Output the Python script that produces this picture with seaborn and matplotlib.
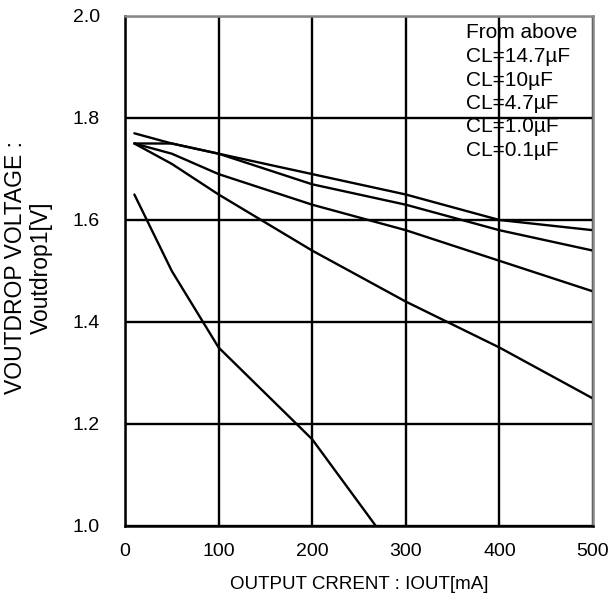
import pandas as pd
import matplotlib
matplotlib.use("Agg")
import matplotlib.pyplot as plt
import seaborn as sns

# load current (mA) and dropout voltage (V) for each output capacitor
current = [10, 50, 100, 200, 300, 400, 500]
cl_14_7 = [1.77, 1.75, 1.73, 1.69, 1.65, 1.60, 1.58]
cl_10 = [1.75, 1.75, 1.73, 1.67, 1.63, 1.58, 1.54]
cl_4_7 = [1.75, 1.73, 1.69, 1.63, 1.58, 1.52, 1.46]
cl_1_0 = [1.75, 1.71, 1.65, 1.54, 1.44, 1.35, 1.25]
cl_0_1 = [1.65, 1.50, 1.35, 1.17, 0.92, None, None]
series_names = ["CL=14.7µF", "CL=10µF", "CL=4.7µF", "CL=1.0µF", "CL=0.1µF"]

rows = []
for name, vals in zip(series_names, [cl_14_7, cl_10, cl_4_7, cl_1_0, cl_0_1]):
    for x, v in zip(current, vals):
        if v is not None:
            rows.append({"iout": x, "vdrop": v, "cl": name})
df = pd.DataFrame(rows)

sns.set_style("white")
plt.rcParams["font.family"] = ["Liberation Sans", "DejaVu Sans"]
plt.rcParams["text.color"] = "black"
plt.rcParams["xtick.color"] = "black"
plt.rcParams["ytick.color"] = "black"
plt.rcParams["axes.labelcolor"] = "black"

fig = plt.figure(figsize=(6.14, 6.12), dpi=100)
ax = fig.add_axes([125 / 614, 1 - 526 / 612, 468 / 614, 510 / 612])

sns.lineplot(data=df, x="iout", y="vdrop", hue="cl", hue_order=series_names,
             palette=["black"] * 5, linewidth=1.7, legend=False, ax=ax)

ax.set_xlim(0, 500)
ax.set_ylim(1.0, 2.0)
ax.set_xticks([0, 100, 200, 300, 400, 500])
ax.set_yticks([1.0, 1.2, 1.4, 1.6, 1.8, 2.0])
ax.set_yticklabels(["1.0", "1.2", "1.4", "1.6", "1.8", "2.0"])
ax.grid(True, color="black", linewidth=1.7)
ax.tick_params(axis="x", length=0, pad=12, labelsize=14)
ax.tick_params(axis="y", length=0, pad=18, labelsize=14)

for side in ["left", "bottom"]:
    ax.spines[side].set_color("black")
    ax.spines[side].set_linewidth(1.8)
for side in ["top", "right"]:
    ax.spines[side].set_color("#888888")
    ax.spines[side].set_linewidth(1.8)

ax.set_xlabel("OUTPUT CRRENT : IOUT[mA]", fontsize=13.5, labelpad=12)
ax.set_ylabel("")
fig.text(16 / 614, 1 - 268 / 612, "VOUTDROP VOLTAGE :", rotation=90,
         ha="center", va="center", fontsize=16.5)
fig.text(41 / 614, 1 - 268 / 612, "Voutdrop1[V]", rotation=90,
         ha="center", va="center", fontsize=16.5)

# note block in the upper right, one text per line
note_lines = ["From above"] + series_names
for i, line in enumerate(note_lines):
    ypix = 31 + 23.5 * i
    ax.text((466 - 125) / 468, (526 - ypix) / 510, line,
            transform=ax.transAxes, ha="left", va="center_baseline",
            fontsize=15)

fig.savefig("out.png", dpi=100)
